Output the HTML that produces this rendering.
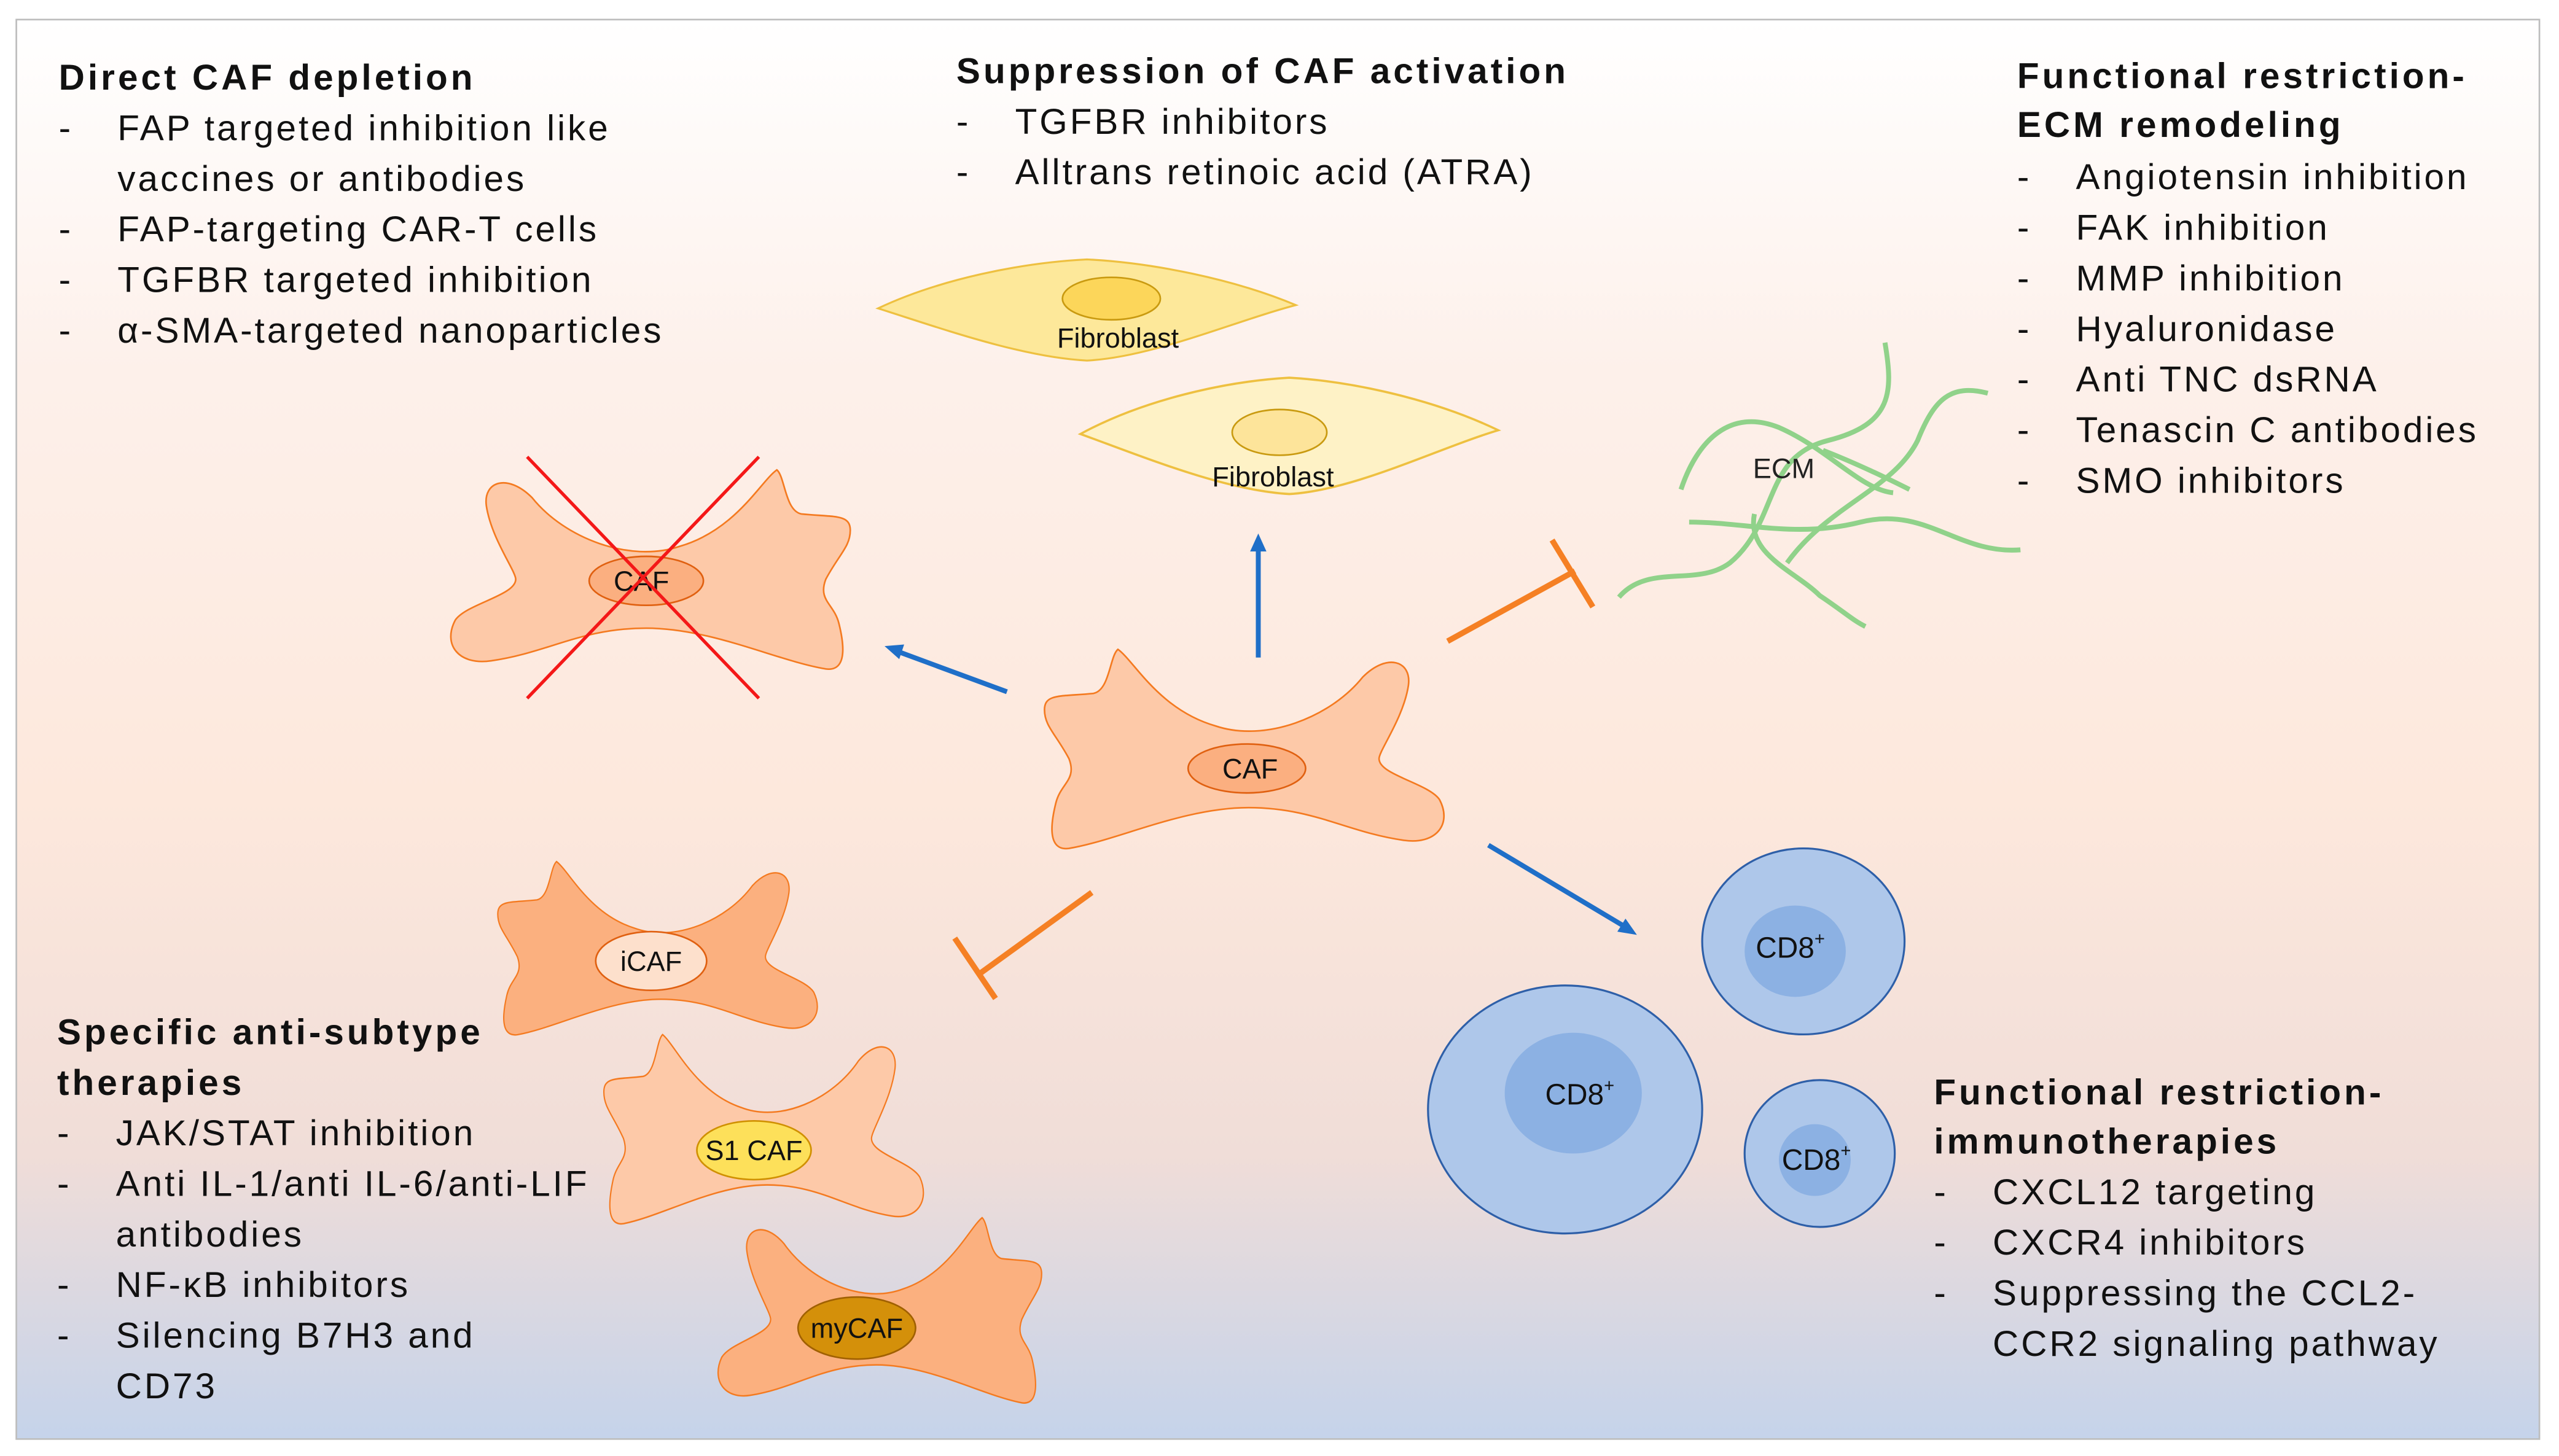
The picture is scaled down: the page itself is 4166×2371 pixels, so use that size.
<!DOCTYPE html>
<html><head><meta charset="utf-8"><style>
html,body{margin:0;padding:0;background:#fff;}
svg{display:block;}
text{font-family:"Liberation Sans",sans-serif;}
.t text{letter-spacing:1.5px;}
.t text.h{letter-spacing:1.9px;}
</style></head><body>
<svg width="4166" height="2371" viewBox="0 0 1568 892.4" xmlns="http://www.w3.org/2000/svg">
<defs>
<linearGradient id="bg" x1="0" y1="0" x2="0" y2="1">
<stop offset="0" stop-color="#ffffff"/>
<stop offset="0.25" stop-color="#fdf0ea"/>
<stop offset="0.55" stop-color="#fde8dc"/>
<stop offset="0.8" stop-color="#f0ddd8"/>
<stop offset="1" stop-color="#c5d3ea"/>
</linearGradient>
<path id="cell" d="M -80,-62 C -70,-55 -55,-25 -20,-15 C 10,-5 50,-20 70,-45 C 85,-60 100,-55 98,-40 C 95,-20 80,0 80,5 C 80,15 110,20 117,30 C 125,45 115,58 95,55 C 60,50 40,35 0,35 C -40,35 -80,55 -110,60 C -125,62 -120,40 -118,32 C -115,20 -105,18 -110,5 C -118,-10 -125,-15 -125,-25 C -125,-35 -115,-33 -95,-35 C -85,-37 -85,-58 -80,-62 Z"/>
<path id="fib" d="M -128,0 C -90,-18 -40,-28 0,-30 C 40,-28 90,-18 128,-2 C 90,8 40,30 0,32 C -40,30 -90,12 -128,0 Z"/>
</defs>
<rect x="0" y="0" width="1568" height="892.4" fill="#fff"/>
<rect x="10" y="12" width="1546" height="870" fill="url(#bg)" stroke="#bdbdbd" stroke-width="1"/>

<g class="t" font-size="22" fill="#111">
<text class="h" x="36" y="55" font-weight="bold">Direct CAF depletion</text>
<text x="36" y="86">-</text><text x="72" y="86">FAP targeted inhibition like</text>
<text x="72" y="117">vaccines or antibodies</text>
<text x="36" y="148">-</text><text x="72" y="148">FAP-targeting CAR-T cells</text>
<text x="36" y="179">-</text><text x="72" y="179">TGFBR targeted inhibition</text>
<text x="36" y="210">-</text><text x="72" y="210">α-SMA-targeted nanoparticles</text>

<text class="h" x="586" y="51" font-weight="bold">Suppression of CAF activation</text>
<text x="586" y="82">-</text><text x="622" y="82">TGFBR inhibitors</text>
<text x="586" y="113">-</text><text x="622" y="113">Alltrans retinoic acid (ATRA)</text>

<text class="h" x="1236" y="54" font-weight="bold">Functional restriction-</text>
<text class="h" x="1236" y="84" font-weight="bold">ECM remodeling</text>
<text x="1236" y="116">-</text><text x="1272" y="116">Angiotensin inhibition</text>
<text x="1236" y="147">-</text><text x="1272" y="147">FAK inhibition</text>
<text x="1236" y="178">-</text><text x="1272" y="178">MMP inhibition</text>
<text x="1236" y="209">-</text><text x="1272" y="209">Hyaluronidase</text>
<text x="1236" y="240">-</text><text x="1272" y="240">Anti TNC dsRNA</text>
<text x="1236" y="271">-</text><text x="1272" y="271">Tenascin C antibodies</text>
<text x="1236" y="302">-</text><text x="1272" y="302">SMO inhibitors</text>

<text class="h" x="35" y="640" font-weight="bold">Specific anti-subtype</text>
<text class="h" x="35" y="671" font-weight="bold">therapies</text>
<text x="35" y="702">-</text><text x="71" y="702">JAK/STAT inhibition</text>
<text x="35" y="733">-</text><text x="71" y="733">Anti IL-1/anti IL-6/anti-LIF</text>
<text x="71" y="764">antibodies</text>
<text x="35" y="795">-</text><text x="71" y="795">NF-κB inhibitors</text>
<text x="35" y="826">-</text><text x="71" y="826">Silencing B7H3 and</text>
<text x="71" y="857">CD73</text>

<text class="h" x="1185" y="677" font-weight="bold">Functional restriction-</text>
<text class="h" x="1185" y="707" font-weight="bold">immunotherapies</text>
<text x="1185" y="738">-</text><text x="1221" y="738">CXCL12 targeting</text>
<text x="1185" y="769">-</text><text x="1221" y="769">CXCR4 inhibitors</text>
<text x="1185" y="800">-</text><text x="1221" y="800">Suppressing the CCL2-</text>
<text x="1221" y="831">CCR2 signaling pathway</text>
</g>

<use href="#fib" transform="translate(666,189)" fill="#fde89a" stroke="#eec040" stroke-width="1.2"/>
<ellipse cx="681" cy="183" rx="30" ry="13" fill="#fcd65a" stroke="#c99a10" stroke-width="1"/>
<text x="685" y="213" font-size="17" text-anchor="middle" fill="#111">Fibroblast</text>
<use href="#fib" transform="translate(790,266) scale(1,1.15)" fill="#fef2c6" stroke="#eec040" stroke-width="1.2"/>
<ellipse cx="784" cy="265" rx="29" ry="14" fill="#fde49a" stroke="#c99a10" stroke-width="1"/>
<text x="780" y="298" font-size="17" text-anchor="middle" fill="#111">Fibroblast</text>

<g fill="none" stroke="#90d28a" stroke-width="3">
<path d="M992,366 C1010,345 1040,360 1060,345 C1090,320 1080,280 1120,270 C1160,260 1160,240 1155,210"/>
<path d="M1035,320 C1070,320 1100,330 1140,320 C1180,310 1200,340 1238,337"/>
<path d="M1030,300 C1040,270 1060,250 1090,262 C1120,275 1140,300 1160,302"/>
<path d="M1095,345 C1120,310 1160,300 1175,270 C1185,245 1195,235 1218,241"/>
<path d="M1075,315 C1070,340 1100,350 1115,365 C1130,375 1135,380 1143,384"/>
<path d="M1117,276 C1140,285 1160,295 1170,300"/>
</g>
<text x="1093" y="293" font-size="17" text-anchor="middle" fill="#222">ECM</text>

<use href="#cell" transform="translate(396,350) scale(-1,1)" fill="#fdc9a8" stroke="#f47a20" stroke-width="1"/>
<ellipse cx="396" cy="356" rx="35" ry="15" fill="#fbaf80" stroke="#e06010" stroke-width="1"/>
<text x="393" y="362" font-size="17" text-anchor="middle" fill="#111">CAF</text>
<line x1="323" y1="280" x2="465" y2="428" stroke="#f41818" stroke-width="2"/>
<line x1="465" y1="280" x2="323" y2="428" stroke="#f41818" stroke-width="2"/>

<use href="#cell" transform="translate(765,460)" fill="#fdc9a8" stroke="#f47a20" stroke-width="1"/>
<ellipse cx="764" cy="471" rx="36" ry="15" fill="#fbaf80" stroke="#e06010" stroke-width="1"/>
<text x="766" y="477" font-size="17" text-anchor="middle" fill="#111">CAF</text>

<use href="#cell" transform="translate(405,582) scale(0.8,0.87)" fill="#fbb07f" stroke="#f47a20" stroke-width="1"/>
<ellipse cx="399" cy="589" rx="34" ry="18" fill="#fde0cc" stroke="#e06010" stroke-width="1"/>
<text x="399" y="595" font-size="17" text-anchor="middle" fill="#111">iCAF</text>

<use href="#cell" transform="translate(470,693) scale(0.8,0.95)" fill="#fdc9a8" stroke="#f47a20" stroke-width="1"/>
<ellipse cx="462" cy="705" rx="35" ry="18" fill="#fde05a" stroke="#d09000" stroke-width="1"/>
<text x="462" y="711" font-size="17" text-anchor="middle" fill="#111">S1 CAF</text>

<use href="#cell" transform="translate(537,804) scale(-0.81,0.93)" fill="#fbb07f" stroke="#f47a20" stroke-width="1"/>
<ellipse cx="525" cy="814" rx="36" ry="19" fill="#d4900a" stroke="#a06000" stroke-width="1"/>
<text x="525" y="820" font-size="17" text-anchor="middle" fill="#111">myCAF</text>

<ellipse cx="959" cy="680" rx="84" ry="76" fill="#aec7ea" stroke="#2e5fa8" stroke-width="1.2"/>
<ellipse cx="964" cy="670" rx="42" ry="37" fill="#8cb1e3"/>
<text x="968" y="677" font-size="18" text-anchor="middle" fill="#111">CD8<tspan font-size="11" dy="-8">+</tspan></text>
<ellipse cx="1105" cy="577" rx="62" ry="57" fill="#aec7ea" stroke="#2e5fa8" stroke-width="1.2"/>
<ellipse cx="1100" cy="583" rx="31" ry="28" fill="#8cb1e3"/>
<text x="1097" y="587" font-size="18" text-anchor="middle" fill="#111">CD8<tspan font-size="11" dy="-8">+</tspan></text>
<ellipse cx="1115" cy="707" rx="46" ry="45" fill="#aec7ea" stroke="#2e5fa8" stroke-width="1.2"/>
<ellipse cx="1112" cy="711" rx="22" ry="22" fill="#8cb1e3"/>
<text x="1113" y="717" font-size="18" text-anchor="middle" fill="#111">CD8<tspan font-size="11" dy="-8">+</tspan></text>

<g stroke="#1f6fc8" stroke-width="3" fill="#1f6fc8">
<line x1="617" y1="424" x2="552" y2="400"/>
<polygon points="542,396 554,395 551,404" stroke="none"/>
<line x1="771" y1="403" x2="771" y2="337"/>
<polygon points="771,327 766,338 776,338" stroke="none"/>
<line x1="912" y1="518" x2="994" y2="567"/>
<polygon points="1003,573 991,571 996,563" stroke="none"/>
</g>
<g stroke="#f58024" stroke-width="3.5" fill="none">
<line x1="887" y1="393" x2="965" y2="350"/>
<line x1="951" y1="331" x2="976" y2="372"/>
<line x1="669" y1="547" x2="600" y2="597"/>
<line x1="585" y1="575" x2="610" y2="612"/>
</g>
</svg>
</body></html>
